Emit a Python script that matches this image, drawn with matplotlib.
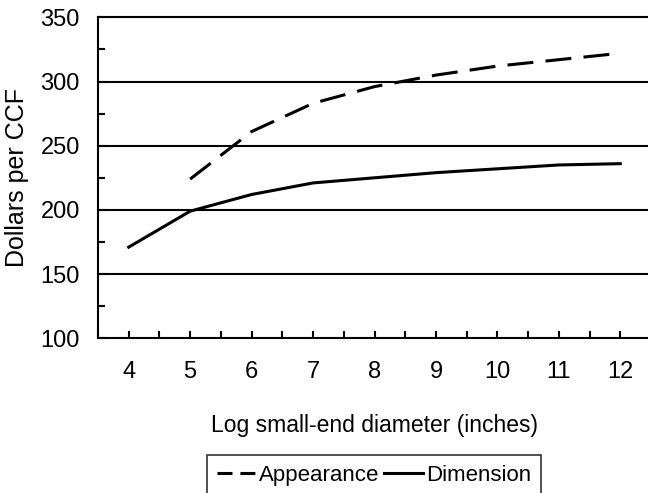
import matplotlib.pyplot as plt
from matplotlib.lines import Line2D
from matplotlib.ticker import MultipleLocator

plt.rcParams["font.family"] = ["Liberation Sans", "DejaVu Sans"]

# ---------- Data ----------
diameter = [4, 5, 6, 7, 8, 9, 10, 11, 12]
dimension = [171, 199, 212, 221, 225, 229, 232, 235, 236]
appearance_diam = [5, 6, 7, 8, 9, 10, 11, 12]
appearance = [224, 261, 283, 296, 305, 312, 317, 322]

# ---------- Figure ----------
fig = plt.figure(figsize=(6.48, 4.93), dpi=100)
ax = fig.add_axes([98 / 648, 1 - 338.3 / 493, (651 - 98) / 648, (338.3 - 17.3) / 493])

lw = 2.2
ax.plot(appearance_diam, appearance, color="black", linewidth=lw,
        dashes=(8.5, 4), zorder=3)
ax.plot(diameter, dimension, color="black", linewidth=lw, zorder=3)

ax.set_xlim(3.5, 12.5)
ax.set_ylim(100, 350)

# horizontal gridlines at major ticks
for yv in [150, 200, 250, 300, 350]:
    ax.axhline(yv, color="black", linewidth=1.5, zorder=1, clip_on=False)

for s in ["top", "right"]:
    ax.spines[s].set_visible(False)
for s in ["left", "bottom"]:
    ax.spines[s].set_linewidth(1.5)

ax.xaxis.set_major_locator(MultipleLocator(1))
ax.xaxis.set_minor_locator(MultipleLocator(0.5))
ax.yaxis.set_major_locator(MultipleLocator(50))
ax.yaxis.set_minor_locator(MultipleLocator(25))

ax.tick_params(axis="both", which="both", direction="in", length=5, width=1.5,
               labelsize=17, colors="black")
ax.tick_params(axis="x", which="major", pad=16)
ax.tick_params(axis="y", which="major", pad=13)
ax.tick_params(axis="x", which="both", top=False)
ax.tick_params(axis="y", which="both", right=False)

ax.set_xlabel("Log small-end diameter (inches)", fontsize=16.5, labelpad=23)
ax.set_ylabel("Dollars per CCF", fontsize=18, labelpad=8)

# legend handles: the dashed sample shows two even dashes
handles = [
    Line2D([], [], color="black", linewidth=lw, dashes=(4.9, 2.6)),
    Line2D([], [], color="black", linewidth=lw),
]
leg = fig.legend(handles, ["Appearance", "Dimension"],
                 loc="upper center", bbox_to_anchor=(374 / 648, 1 - 455 / 493),
                 ncol=2, fontsize=16, frameon=True, fancybox=False,
                 handlelength=1.75, handletextpad=0.15, columnspacing=0.2,
                 borderpad=0.45, borderaxespad=0)
leg.get_frame().set_edgecolor("black")
leg.get_frame().set_linewidth(1.2)

fig.savefig("out.png", dpi=100)
